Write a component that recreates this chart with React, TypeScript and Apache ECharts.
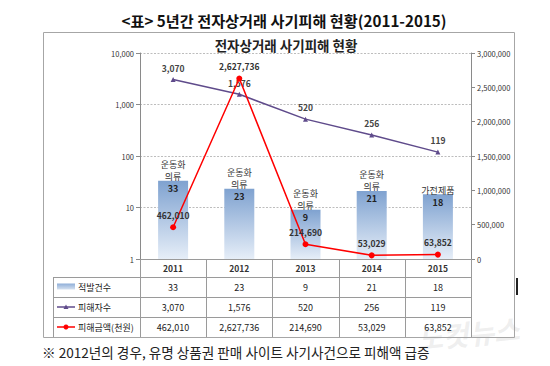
import React, { useEffect, useRef } from "react";
import * as echarts from "echarts";

const years = ["2011", "2012", "2013", "2014", "2015"];
const cases = [33, 23, 9, 21, 18];
const victims = [3070, 1576, 520, 256, 119];
const damage = [462010, 2627736, 214690, 53029, 63852];
const topItems = ["운동화\n의류", "운동화\n의류", "운동화\n의류", "운동화\n의류", "가전제품"];
const rowNames = ["적발건수", "피해자수", "피해금액(천원)"];
const leftTicks = { min: 1, max: 10000 };
const rightTicks = { min: 0, max: 3000000, interval: 500000 };

const FONT = "'Noto Sans CJK KR', 'Noto Sans', sans-serif";
const fmt = (v: number) => v.toLocaleString("en-US");

export default function App() {
  const ref = useRef<HTMLDivElement>(null);
  useEffect(() => {
    if (!ref.current) return;
    const chart = echarts.init(ref.current, null, { renderer: "svg" });

    const gLeft = 140, gRight = 471, gTop = 53, gBottom = 259;
    const colW = (gRight - gLeft) / years.length;
    const rowY = [259, 277, 297, 317, 337];
    const gridColor = "#9A9A9A";
    const axisColor = "#8A8A8A";

    const graphics: any[] = [];
    // frame
    graphics.push({ type: "rect", shape: { x: 43.5, y: 32.5, width: 471, height: 305 }, style: { fill: "none", stroke: "#A6A6A6", lineWidth: 1 }, z: 1 });
    // table horizontal lines
    for (let i = 1; i < rowY.length - 1; i++) {
      graphics.push({ type: "line", shape: { x1: 53, y1: rowY[i] + 0.5, x2: gRight, y2: rowY[i] + 0.5 }, style: { stroke: gridColor, lineWidth: 1 }, z: 5 });
    }
    // legend column left
    graphics.push({ type: "line", shape: { x1: 53.5, y1: rowY[1], x2: 53.5, y2: 337 }, style: { stroke: gridColor, lineWidth: 1 }, z: 5 });
    // axis lines extension into table
    graphics.push({ type: "line", shape: { x1: gLeft + 0.5, y1: gBottom, x2: gLeft + 0.5, y2: 337 }, style: { stroke: gridColor, lineWidth: 1 }, z: 5 });
    graphics.push({ type: "line", shape: { x1: gRight + 0.5, y1: gBottom, x2: gRight + 0.5, y2: 337 }, style: { stroke: gridColor, lineWidth: 1 }, z: 5 });
    for (let k = 1; k < years.length; k++) {
      const x = Math.round(gLeft + colW * k) + 0.5;
      graphics.push({ type: "line", shape: { x1: x, y1: gBottom, x2: x, y2: 337 }, style: { stroke: gridColor, lineWidth: 1 }, z: 5 });
    }
    // table values
    const rows = [cases, victims, damage];
    rows.forEach((arr, r) => {
      const cy = (rowY[r + 1] + rowY[r + 2]) / 2;
      arr.forEach((v, i) => {
        graphics.push({ type: "text", x: gLeft + colW * (i + 0.5), y: cy, style: { text: fmt(v), fill: "#222", font: `9px ${FONT}`, align: "center", verticalAlign: "middle" }, z: 6 });
      });
      graphics.push({ type: "text", x: 78, y: cy, style: { text: rowNames[r], fill: "#222", font: `9px ${FONT}`, align: "left", verticalAlign: "middle" }, z: 6 });
    });
    // legend symbols
    const c1 = (rowY[1] + rowY[2]) / 2, c2 = (rowY[2] + rowY[3]) / 2, c3 = (rowY[3] + rowY[4]) / 2;
    graphics.push({ type: "rect", shape: { x: 57, y: c1 - 3.5, width: 18, height: 6 }, style: { fill: new echarts.graphic.LinearGradient(0, 0, 0, 1, [{ offset: 0, color: "#8FAED8" }, { offset: 1, color: "#D5E1F0" }]) }, z: 6 });
    graphics.push({ type: "line", shape: { x1: 57, y1: c2, x2: 75, y2: c2 }, style: { stroke: "#5F4B8B", lineWidth: 1.5 }, z: 6 });
    graphics.push({ type: "polygon", shape: { points: [[66, c2 - 2.5], [68.5, c2 + 2], [63.5, c2 + 2]] }, style: { fill: "#5F4B8B" }, z: 6 });
    graphics.push({ type: "line", shape: { x1: 57, y1: c3, x2: 75, y2: c3 }, style: { stroke: "#FF0000", lineWidth: 1.5 }, z: 6 });
    graphics.push({ type: "circle", shape: { cx: 66, cy: c3, r: 2.5 }, style: { fill: "#FF0000" }, z: 6 });
    // small black mark
    graphics.push({ type: "rect", shape: { x: 516, y: 278, width: 2, height: 17 }, style: { fill: "#222" }, z: 6 });
    // watermark
    graphics.push({ type: "text", x: 468, y: 333, rotation: 0.1, style: { text: "노컷뉴스", fill: "rgba(200,200,200,0.3)", font: `italic bold 28px ${FONT}`, align: "center", verticalAlign: "middle" }, z: 0 });
    // footnote
    graphics.push({ type: "text", x: 42, y: 352, style: { text: "※ 2012년의 경우, 유명 상품권 판매 사이트 사기사건으로 피해액 급증", fill: "#222", font: `13.6px ${FONT}`, align: "left", verticalAlign: "middle" }, z: 6 });

    const option: any = {
      animation: false,
      backgroundColor: "#fff",
      title: [
        { text: "<표> 5년간 전자상거래 사기피해 현황(2011-2015)", left: 279, top: 7, textAlign: "center", textStyle: { fontFamily: FONT, fontSize: 15.2, fontWeight: "bold", color: "#111" } },
        { text: "전자상거래 사기피해 현황", left: 281, top: 33, textAlign: "center", textStyle: { fontFamily: FONT, fontSize: 13.5, fontWeight: "bold", color: "#222" } },
      ],
      grid: { left: gLeft, right: 550 - gRight, top: gTop, bottom: 366 - gBottom },
      xAxis: {
        type: "category",
        data: years,
        axisLine: { show: true, lineStyle: { color: gridColor } },
        axisTick: { show: false },
        axisLabel: { margin: 5, fontFamily: FONT, fontSize: 8.5, fontWeight: "bold", color: "#333" },
      },
      yAxis: [
        {
          type: "log",
          logBase: 10,
          min: leftTicks.min,
          max: leftTicks.max,
          axisLine: { show: true, lineStyle: { color: axisColor } },
          axisTick: { show: true, length: 4, lineStyle: { color: axisColor } },
          axisLabel: { formatter: (v: number) => fmt(v), fontFamily: FONT, fontSize: 7.5, color: "#333", margin: 6 },
          splitLine: { show: true, lineStyle: { color: "#BDBDBD", type: [2, 1.5], width: 1 } },
        },
        {
          type: "value",
          position: "right",
          min: rightTicks.min,
          max: rightTicks.max,
          interval: rightTicks.interval,
          axisLine: { show: true, lineStyle: { color: axisColor } },
          axisTick: { show: true, length: 4, lineStyle: { color: axisColor } },
          axisLabel: { formatter: (v: number) => fmt(v), fontFamily: FONT, fontSize: 7.5, color: "#333", margin: 6 },
          splitLine: { show: false },
        },
      ],
      series: [
        {
          type: "bar",
          data: cases,
          barWidth: 30,
          yAxisIndex: 0,
          itemStyle: {
            color: new echarts.graphic.LinearGradient(0, 0, 0, 1, [
              { offset: 0, color: "#7FA2D0" },
              { offset: 1, color: "#E6EEF8" },
            ]),
          },
          label: {
            show: true,
            position: "top",
            distance: 0,
            offset: [0, 14],
            formatter: (p: any) => {
              const lines = topItems[p.dataIndex].split("\n").map((s) => `{c|${s}}`).join("\n");
              return `${lines}\n{v|${p.value}}`;
            },
            rich: {
              c: { fontFamily: FONT, fontSize: 9, lineHeight: 12, color: "#333" },
              v: { fontFamily: FONT, fontSize: 9, fontWeight: "bold", lineHeight: 12, color: "#222" },
            },
          },
          z: 2,
        },
        {
          type: "line",
          data: victims,
          yAxisIndex: 0,
          symbol: "triangle",
          symbolSize: 5,
          lineStyle: { color: "#5F4B8B", width: 1.5 },
          itemStyle: { color: "#5F4B8B" },
          label: { show: true, position: "top", distance: 5, formatter: (p: any) => fmt(p.value), fontFamily: FONT, fontSize: 8.5, fontWeight: "bold", color: "#444" },
          z: 3,
        },
        {
          type: "line",
          data: damage,
          yAxisIndex: 1,
          symbol: "circle",
          symbolSize: 6,
          lineStyle: { color: "#FF0000", width: 1.5 },
          itemStyle: { color: "#FF0000" },
          label: { show: true, position: "top", distance: 5, formatter: (p: any) => fmt(p.value), fontFamily: FONT, fontSize: 8.5, fontWeight: "bold", color: "#333" },
          z: 4,
        },
      ],
      graphic: graphics,
    };
    chart.setOption(option);
    return () => chart.dispose();
  }, []);

  return <div ref={ref} style={{ position: "fixed", left: 0, top: 0, width: 550, height: 366, background: "#fff" }} />;
}
